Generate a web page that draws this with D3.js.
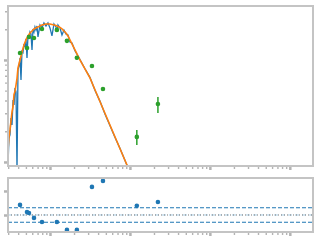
<!DOCTYPE html>
<html>
<head>
<meta charset="utf-8">
<script src="https://cdn.jsdelivr.net/npm/d3@7"></script>
<style>
body { margin: 0; background: #fff; }
svg { display: block; }
</style>
</head>
<body>
<div id="chart"></div>
<script>
// spectrum (blue), model (orange), photometry (green), residuals
var specX = [0.2985,0.307,0.316,0.3255,0.335,0.345,0.355,0.365,0.376,0.387,0.398,0.410,0.422,0.434,0.447,0.460,0.473,0.487,0.501,0.516,0.531,0.546,0.562,0.579,0.596,0.613,0.631,0.649,0.668,0.688,0.708,0.750,0.794,0.841,0.891,0.944,1.0,1.059,1.122,1.189,1.224,1.259,1.334,1.413,1.496,1.585,1.679,1.778,1.884,2.054,2.371,2.738,3.162,3.652,4.217,4.870,5.623,6.494,7.499,8.660,9.44];
var specY = [0.935,1.719,1.840,2.700,2.305,4.054,3.622,5.315,4.857,0.835,7.98,8.733,10.46,6.368,12.54,11.98,14.35,13.41,16.07,10.46,17.59,16.44,18.82,17.99,12.54,20.13,18.82,21.06,19.68,21.54,16.81,22.03,20.59,23.06,21.54,23.06,20.59,17.19,22.54,21.06,18.82,22.03,20.59,17.59,19.68,17.99,17.59,15.01,14.68,12.3,10.1,8.2,6.75,5.05,3.95,2.95,2.28,1.75,1.36,1.04,0.88];

var modelX = [0.2985,0.307,0.316,0.3255,0.335,0.345,0.355,0.365,0.376,0.387,0.398,0.422,0.447,0.473,0.501,0.531,0.562,0.596,0.631,0.668,0.708,0.750,0.794,0.841,0.891,0.944,1.0,1.059,1.122,1.189,1.259,1.334,1.413,1.496,1.585,1.679,1.778,1.884,2.054,2.371,2.738,3.162,3.652,4.217,4.870,5.623,6.494,7.499,8.660,10];
var modelY = [1.311,1.75,2.06,2.55,3.09,3.5,4.6,4.9,5.7,6.6,8.35,10.0,11.98,14.03,15.71,17.19,18.40,19.24,20.13,20.59,21.06,21.54,22.03,22.28,22.54,22.54,22.54,22.28,22.03,21.79,21.30,20.82,20.13,19.24,18.40,17.19,15.71,14.35,12.54,10.0,8.163,6.66,5.11,3.92,3.006,2.305,1.768,1.356,1.040,0.798];

var photX = [0.422,0.516,0.546,0.631,0.794,1.22,1.63,2.17,3.35,4.60,12.2,22.4];
var photY = [11.7,13.1,16.8,16.4,20.1,19.7,15.4,10.5,8.73,5.2,1.76,3.7];
var photLo = [11.2,12.6,16.2,15.8,19.4,19.0,14.8,10.1,8.4,5.0,1.47,3.02];
var photHi = [12.2,13.6,17.4,17.0,20.8,20.4,16.0,10.9,9.1,5.4,2.06,4.34];
var resid = [0.42,0.12,0.08,-0.12,-0.29,-0.29,-0.62,-0.62,1.17,1.42,0.38,0.54];
var residBand = [-0.3, 0.3];

var W = 320, H = 240;
var left = 8, right = 313;
var top1 = 6, bot1 = 166, top2 = 178, bot2 = 232;
var spine = "#c4c4c4", tickCol = "#b4b4b4";

var svg = d3.select("#chart").append("svg")
  .attr("width", W).attr("height", H);

var x = d3.scaleLog().domain([0.2985, 1950]).range([left, right]);
var y = d3.scaleLog().domain([0.913, 33.8]).range([bot1, top1]);
var yr = d3.scaleLinear().domain([-0.708, 1.54]).range([bot2, top2]);

svg.append("clipPath").attr("id", "c1").append("rect")
  .attr("x", left).attr("y", top1).attr("width", right - left).attr("height", bot1 - top1);
svg.append("clipPath").attr("id", "c2").append("rect")
  .attr("x", left).attr("y", top2).attr("width", right - left).attr("height", bot2 - top2);

// ticks: majors on decades, minors between
function drawTicks(g, scale, orient, values, major) {
  var ax = orient == "bottom" ? d3.axisBottom(scale) : d3.axisLeft(scale);
  ax.tickValues(values).tickFormat("").tickSize(major ? 3 : 2).tickSizeOuter(0);
  g.call(ax);
  g.select(".domain").remove();
  g.selectAll(".tick line").attr("stroke", tickCol).attr("stroke-width", major ? 2.5 : 1.4);
}
var xMaj = [1, 10, 100, 1000], xMin = [];
[0.1, 1, 10, 100, 1000].forEach(function(d) {
  for (var k = 2; k < 10; k++) { var v = d * k; if (v > 0.2985 && v < 1950) xMin.push(v); }
});
var yMin = [2,3,4,5,6,7,8,9,20,30];

[bot1, bot2].forEach(function(b) {
  drawTicks(svg.append("g").attr("transform", "translate(0," + (b + 1) + ")"), x, "bottom", xMin, false);
  drawTicks(svg.append("g").attr("transform", "translate(0," + (b + 1) + ")"), x, "bottom", xMaj, true);
});
drawTicks(svg.append("g").attr("transform", "translate(" + (left - 1) + ",0)"), y, "left", yMin, false);
drawTicks(svg.append("g").attr("transform", "translate(" + (left - 1) + ",0)"), y, "left", [1, 10], true);
drawTicks(svg.append("g").attr("transform", "translate(" + (left - 1) + ",0)"), yr, "left", [0, 1], true);

// top panel
var p1 = svg.append("g").attr("clip-path", "url(#c1)");
var specLine = d3.line().x(function(d, i) { return x(specX[i]); }).y(function(d) { return y(d); });
p1.append("path").datum(specY)
  .attr("d", specLine)
  .attr("fill", "none").attr("stroke", "#1f77b4").attr("stroke-width", 1.3);
var modelLine = d3.line().x(function(d, i) { return x(modelX[i]); }).y(function(d) { return y(d); });
p1.append("path").datum(modelY)
  .attr("d", modelLine)
  .attr("fill", "none").attr("stroke", "#ff7f0e").attr("stroke-width", 1.6);

p1.selectAll(".eb").data(photY).enter().append("line")
  .attr("x1", function(d, i) { return x(photX[i]); })
  .attr("x2", function(d, i) { return x(photX[i]); })
  .attr("y1", function(d, i) { return y(photLo[i]); })
  .attr("y2", function(d, i) { return y(photHi[i]); })
  .attr("stroke", "#2ca02c").attr("stroke-width", 1.5);
p1.selectAll(".pt").data(photY).enter().append("circle")
  .attr("cx", function(d, i) { return x(photX[i]); })
  .attr("cy", function(d) { return y(d); })
  .attr("r", 2.3).attr("fill", "#2ca02c");

// residual panel
var p2 = svg.append("g").attr("clip-path", "url(#c2)");
p2.append("line").attr("x1", left).attr("x2", right)
  .attr("y1", yr(0)).attr("y2", yr(0))
  .attr("stroke", "#a6cbe3").attr("stroke-width", 1).attr("stroke-dasharray", "4,3");
p2.append("line").attr("x1", left).attr("x2", right)
  .attr("y1", yr(0)).attr("y2", yr(0))
  .attr("stroke", "#777").attr("stroke-width", 1).attr("stroke-dasharray", "1,2");
p2.selectAll(".band").data(residBand).enter().append("line")
  .attr("x1", left).attr("x2", right)
  .attr("y1", function(d) { return yr(d); }).attr("y2", function(d) { return yr(d); })
  .attr("stroke", "#1f77b4").attr("stroke-width", 1.1).attr("stroke-dasharray", "4,2");
p2.selectAll(".rp").data(resid).enter().append("circle")
  .attr("cx", function(d, i) { return x(photX[i]); })
  .attr("cy", function(d) { return yr(d); })
  .attr("r", 2.3).attr("fill", "#1f77b4");

// spines
[[top1, bot1], [top2, bot2]].forEach(function(p) {
  svg.append("rect").attr("x", left).attr("y", p[0])
    .attr("width", right - left).attr("height", p[1] - p[0])
    .attr("fill", "none").attr("stroke", spine).attr("stroke-width", 2);
});
</script>
</body>
</html>
